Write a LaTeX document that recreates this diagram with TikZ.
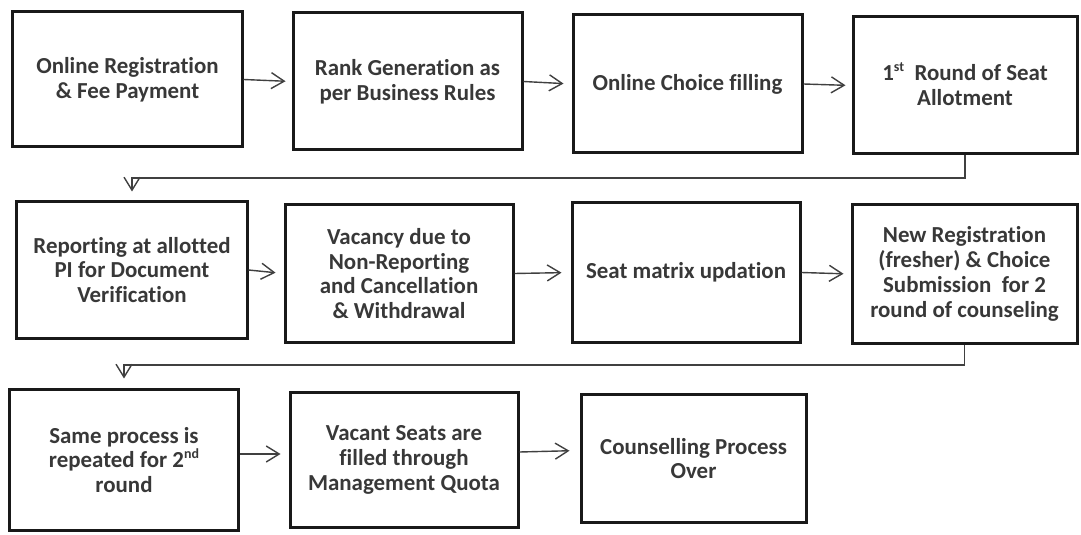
\documentclass[tikz,border=0pt]{standalone}
\usepackage{fontspec}
\setmainfont{Carlito}[Ligatures=NoCommon]
\usetikzlibrary{arrows.meta}
\newcommand{\supsm}[1]{\smash{\raisebox{0.42em}{\fontsize{14}{14}\selectfont #1}}}
\begin{document}
\begin{tikzpicture}[x=1bp,y=-1bp,
  stepbox/.style={draw=black!90, line width=3bp, inner sep=0pt, align=center,
    font=\bfseries\fontsize{23}{25}\selectfont, text=black!78},
  conn/.style={draw=black!75, line width=1.4bp,
    -{Straight Barb[length=13bp,width=16bp,line width=1.4bp]}},
]
\useasboundingbox[fill=white] (0,0) rectangle (1081,535);
% row 1
\node[stepbox, minimum width=229bp, minimum height=135bp] (b1) at (127.5,79.5) {Online Registration\\ \& Fee Payment};
\node[stepbox, minimum width=229bp, minimum height=137bp] (b2) at (407.5,81.5) {Rank Generation as\\ per Business Rules};
\node[stepbox, minimum width=229bp, minimum height=138bp] (b3) at (687.5,84) {Online Choice filling};
\node[stepbox, minimum width=224bp, minimum height=137bp] (b4) at (965,85.5) {1\supsm{st}\ \ Round of Seat\\ Allotment};
% row 2
\node[stepbox, minimum width=230bp, minimum height=136bp] (b5) at (132,270) {Reporting at allotted\\ PI for Document\\ Verification};
\node[stepbox, minimum width=228bp, minimum height=137bp] (b6) at (399,273.5) {Vacancy due to\\ Non-Reporting\\ and Cancellation\\ \& Withdrawal};
\node[stepbox, minimum width=228bp, minimum height=139bp] (b7) at (686,272.5) {Seat matrix updation};
\node[stepbox, minimum width=225bp, minimum height=138bp] (b8) at (964.5,274) {New Registration\\ (fresher) \& Choice\\ Submission\ \ for 2\\ round of counseling};
% row 3
\node[stepbox, minimum width=228bp, minimum height=140bp] (b9) at (124,460) {Same process is\\ repeated for 2\supsm{nd}\\ round};
\node[stepbox, minimum width=228bp, minimum height=134bp] (b10) at (404,460) {Vacant Seats are\\ filled through\\ Management Quota};
\node[stepbox, minimum width=225bp, minimum height=127bp] (b11) at (693.5,458.5) {Counselling Process\\ Over};
% turning points
\coordinate (c1) at (132,178);
\coordinate (c2) at (124,365);
% connectors
\draw[conn, shorten >=6bp] (b1.east) -- (b2.west);
\draw[conn, shorten >=8bp] (b2.east) -- (b3.west);
\draw[conn, shorten >=6bp] (b3.east) -- (b4.west);
\draw[conn, shorten >=9bp] (b4.south) |- (c1) -- (b5.north);
\draw[conn, shorten >=8bp] (b5.east) -- (b6.west);
\draw[conn, shorten >=9bp] (b6.east) -- (b7.west);
\draw[conn, shorten >=7bp] (b7.east) -- (b8.west);
\draw[conn, shorten >=10bp] (b8.south) |- (c2) -- (b9.north);
\draw[conn, shorten >=8bp] ([yshift=6bp]b9.east) -- ([yshift=6bp]b10.west);
\draw[conn, shorten >=10bp] ([yshift=8bp]b10.east) -- ([yshift=8bp]b11.west);
\end{tikzpicture}
\end{document}
